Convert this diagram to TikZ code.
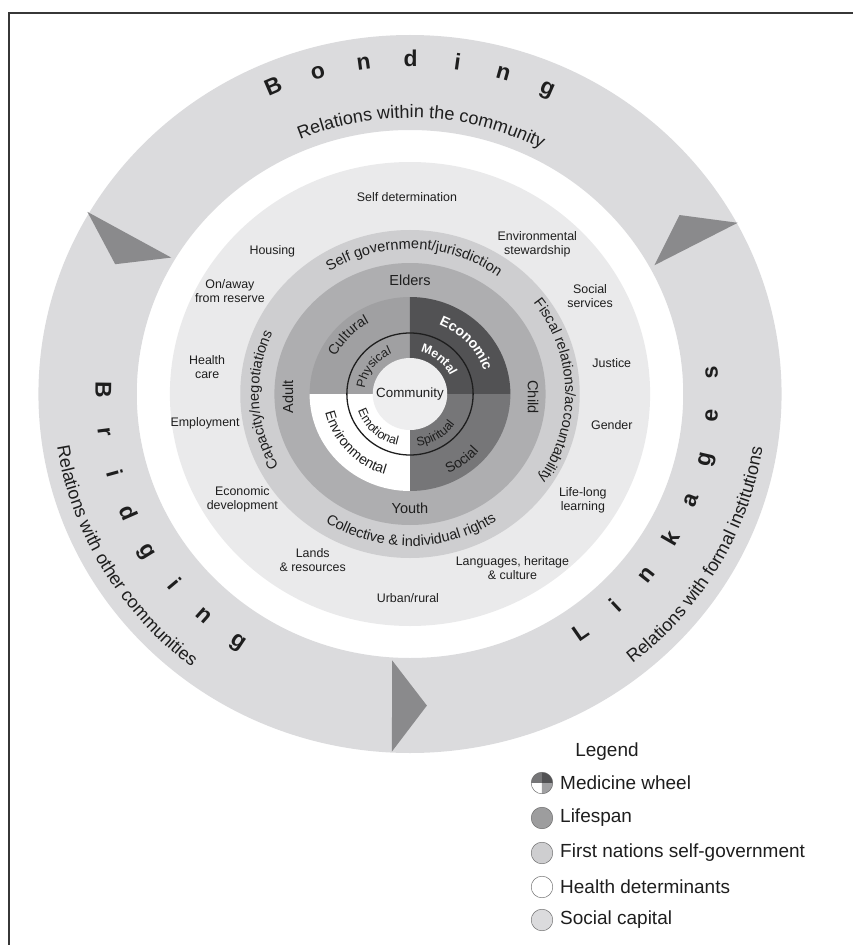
\documentclass[tikz,border=0pt]{standalone}
\usepackage{fontspec}
\setmainfont{Liberation Sans}
\usetikzlibrary{decorations.text}
\definecolor{whband}{RGB}{219,219,221}
\definecolor{whhealth}{RGB}{234,234,235}
\definecolor{whgov}{RGB}{206,206,208}
\definecolor{whlife}{RGB}{174,174,176}
\definecolor{whcult}{RGB}{160,160,162}
\definecolor{whecon}{RGB}{82,82,84}
\definecolor{whsoc}{RGB}{118,118,120}
\definecolor{whcomm}{RGB}{238,238,239}
\definecolor{wharrow}{RGB}{138,138,140}
\definecolor{whink}{RGB}{30,30,30}
\definecolor{whframe}{RGB}{55,55,55}
\newcommand{\whBig}{\fontsize{19.5}{22}\selectfont\bfseries}
\newcommand{\whRel}{\fontsize{15.4}{18}\selectfont}
\newcommand{\whGov}{\fontsize{12.4}{14}\selectfont}
\newcommand{\whDetFont}{\fontsize{10.6}{12}\selectfont}
\newcommand{\whQuadFont}{\fontsize{12}{14}\selectfont}
\newcommand{\whInnerFont}{\fontsize{10.6}{12}\selectfont}
\newcommand{\whLegFont}{\fontsize{16.2}{19}\selectfont}
\tikzset{
  whLetter/.style={font=\whBig, text=whink, anchor=base, inner sep=0pt},
  whCurve/.style={decorate, decoration={text along path, text align=center,
                  text color=whink, text={#1}}},
  whCurveLight/.style={decorate, decoration={text along path, text align=center,
                  text color=white, text={#1}}},
  whDet/.style={font=\whDetFont, text=whink, align=center, inner sep=1pt},
  whLife/.style={font=\whGov, text=whink, inner sep=1pt},
  whArrow/.style={fill=wharrow, draw=none},
  whKey/.style={circle, draw=black!60, thin, minimum size=0.648cm, inner sep=0pt},
  whKeyText/.style={font=\whLegFont, text=whink, anchor=west, inner sep=0pt}
}
\begin{document}
\begin{tikzpicture}[x=0.03cm,y=0.03cm]
  \useasboundingbox (-410,-551) rectangle (443,394);
  \draw[whframe, line width=1.4pt] (-401,-551) -- (-401,381) -- (443,381);

  \begin{scope}[xscale=1.035]
    % rings, outside in
    \fill[whband, even odd rule] (0,0) circle (359) (0,0) circle (264);
    \fill[whhealth] (0,0) circle (232);
    \fill[whgov] (0,0) circle (164);
    \fill[whlife] (0,0) circle (131);
    \fill[whcult] (0,0) -- (90:97) arc[start angle=90, end angle=180, radius=97] -- cycle;
    \fill[whecon] (0,0) -- (0:97) arc[start angle=0, end angle=90, radius=97] -- cycle;
    \fill[whsoc] (0,0) -- (270:97) arc[start angle=270, end angle=360, radius=97] -- cycle;
    \fill[white] (0,0) -- (180:97) arc[start angle=180, end angle=270, radius=97] -- cycle;
    \draw[whink, line width=1.1pt] (0,0) circle (61);
    \fill[whcomm] (0,0) circle (36);

    % heads where one band runs into the next
    \fill[whArrow] (149.7:361) -- (149.4:268) -- (155.5:313) -- cycle;
    \fill[whArrow] (28.4:360) -- (28.6:269) -- (34.5:316) -- cycle;
    \fill[whArrow] (267.2:358) -- (266.3:267) -- (273:312) -- cycle;

    % spaced band titles
    \foreach \ch [count=\i from 0] in {B,o,n,d,i,n,g}
      \node[whLetter, rotate=23.3-7.8*\i] (bond\i) at ({113.3-7.8*\i}:327) {\ch};
    \foreach \ch [count=\i from 0] in {B,r,i,d,g,i,n,g}
      \node[whLetter, rotate=269.2+8.15*\i] (brid\i) at ({179.2+8.15*\i}:304) {\ch};
    \foreach \ch [count=\i from 0] in {L,i,n,k,a,g,e,s}
      \node[whLetter, rotate=34.7+8.49*\i] (link\i) at ({-55.3+8.49*\i}:298) {\ch};

    \path[whCurve={|\whRel|Relations within the community}]
      (147.6:276) arc[start angle=147.6, end angle=27.6, radius=276];
    \path[whCurve={|\whRel|Relations with other communities}]
      (150:345) arc[start angle=150, end angle=270, radius=345];
    \path[whCurve={|\whRel|Relations with formal institutions}]
      (-89.7:345) arc[start angle=-89.7, end angle=30.3, radius=345];

    % self-government ring
    \path[whCurve={|\whGov|Self government/jurisdiction}]
      (158.2:145) arc[start angle=158.2, end angle=18.2, radius=145];
    \path[whCurve={|\whGov|Fiscal relations/accountability}]
      (71.4:150) arc[start angle=71.4, end angle=-68.6, radius=150];
    \path[whCurve={|\whGov|Collective {\&} individual rights}]
      (200.5:152) arc[start angle=200.5, end angle=340.5, radius=152];
    \path[whCurve={|\whGov|Capacity/negotiations}]
      (252.4:146) arc[start angle=252.4, end angle=112.4, radius=146];

    % lifespan
    \node[whLife] (elders) at (0,114) {Elders};
    \node[whLife, rotate=-90] (child) at (119,-3) {Child};
    \node[whLife] (youth) at (0,-114) {Youth};
    \node[whLife, rotate=90] (adult) at (-118,-3) {Adult};

    % medicine wheel
    \path[whCurve={|\whQuadFont|Cultural}]
      (216.8:81) arc[start angle=216.8, end angle=56.8, radius=81];
    \path[whCurveLight={|\whQuadFont\bfseries|Economic}]
      (122.2:75) arc[start angle=122.2, end angle=-37.8, radius=75];
    \path[whCurve={|\whQuadFont|Social}]
      (-132:88) arc[start angle=-132, end angle=28, radius=88];
    \path[whCurve={|\whQuadFont|Environmental}]
      (142.3:84) arc[start angle=142.3, end angle=302.3, radius=84];
    \path[whCurve={|\whInnerFont|Physical}]
      (223.8:44) arc[start angle=223.8, end angle=63.8, radius=44];
    \path[whCurveLight={|\whInnerFont\bfseries|Mental}]
      (130:43) arc[start angle=130, end angle=-30, radius=43];
    \path[whCurve={|\whInnerFont|Spiritual}]
      (-138:53) arc[start angle=-138, end angle=22, radius=53];
    \path[whCurve={|\whInnerFont|Emotional}]
      (147:53) arc[start angle=147, end angle=307, radius=53];
    \node[font=\fontsize{11.4}{13}\selectfont, text=whink, inner sep=0pt] (community) at (0,0) {Community};

    % health determinants
    \node[whDet] (selfdet) at (-3,197) {Self determination};
    \node[whDet] (housing) at (-133,143) {Housing};
    \node[whDet] (reserve) at (-174,103) {On/away\\from reserve};
    \node[whDet] (healthcare) at (-196,27) {Health\\care};
    \node[whDet] (employ) at (-198,-29) {Employment};
    \node[whDet] (econdev) at (-162,-105) {Economic\\development};
    \node[whDet] (lands) at (-94,-166) {Lands\\\& resources};
    \node[whDet] (urban) at (-2,-204) {Urban/rural};
    \node[whDet] (heritage) at (99,-174) {Languages, heritage\\\& culture};
    \node[whDet] (lifelong) at (167,-106) {Life-long\\learning};
    \node[whDet] (gender) at (195,-31) {Gender};
    \node[whDet] (justice) at (195,31) {Justice};
    \node[whDet] (services) at (174,98) {Social\\services};
    \node[whDet] (steward) at (123,150) {Environmental\\stewardship};
  \end{scope}

  % legend
  \node[font=\whLegFont, text=whink] (legtitle) at (197,-358) {Legend};
  \fill[whecon] (132,-389) -- ++(0:10.8) arc[start angle=0, end angle=90, radius=10.8] -- cycle;
  \fill[whsoc] (132,-389) -- ++(90:10.8) arc[start angle=90, end angle=180, radius=10.8] -- cycle;
  \fill[white] (132,-389) -- ++(180:10.8) arc[start angle=180, end angle=270, radius=10.8] -- cycle;
  \fill[whcult] (132,-389) -- ++(270:10.8) arc[start angle=270, end angle=360, radius=10.8] -- cycle;
  \node[whKey] (keywheel) at (132,-389) {};
  \node[whKey, fill=whlife!90!black] (keylife) at (132,-424) {};
  \node[whKey, fill=whgov] (keygov) at (132,-459) {};
  \node[whKey, fill=white] (keyhealth) at (132,-493) {};
  \node[whKey, fill=whband] (keysocial) at (132,-526) {};
  \node[whKeyText] (txtwheel) at (150,-389) {Medicine wheel};
  \node[whKeyText] (txtlife) at (150,-424) {Lifespan};
  \node[whKeyText] (txtgov) at (150,-459) {First nations self-government};
  \node[whKeyText] (txthealth) at (150,-493) {Health determinants};
  \node[whKeyText] (txtsocial) at (150,-526) {Social capital};
\end{tikzpicture}
\end{document}
